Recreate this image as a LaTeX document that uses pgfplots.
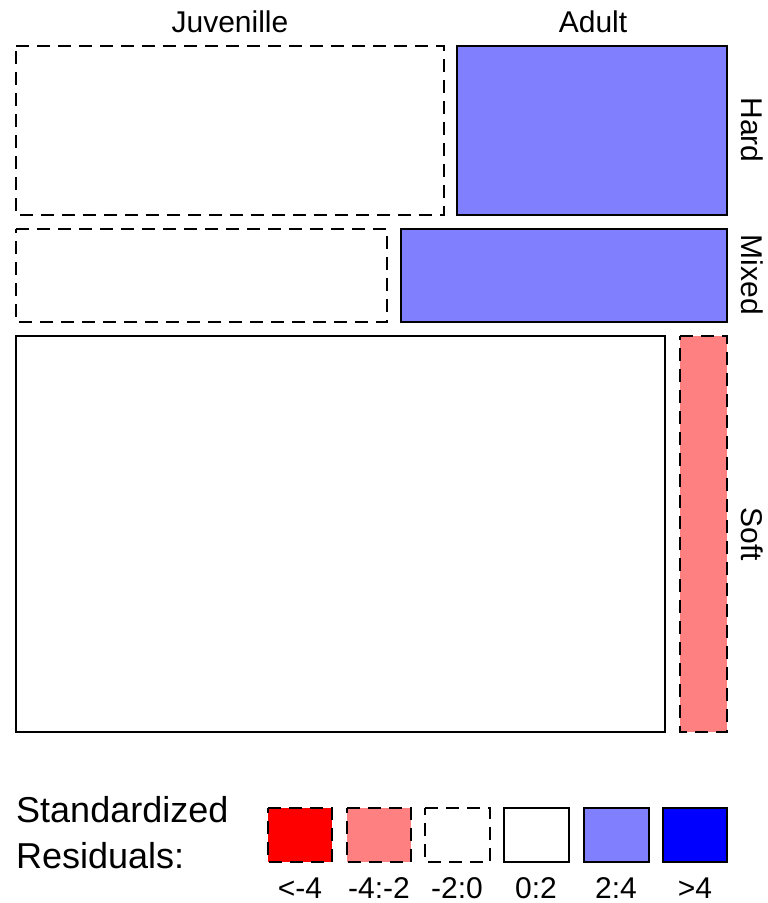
\documentclass[border=0pt]{standalone}
\usepackage{fontspec}
\setmainfont{Liberation Sans}
\usepackage{pgfplots}
\pgfplotsset{compat=1.18}

\definecolor{resNegHigh}{RGB}{255,0,0}
\definecolor{resNegMid}{RGB}{255,128,128}
\definecolor{resPosMid}{RGB}{128,128,255}
\definecolor{resPosHigh}{RGB}{0,0,255}

\tikzset{
  tile/.style={draw=black, line width=2.4pt, line join=miter},
  neg/.style={tile, dash pattern=on 13pt off 8pt},
  lab/.style={font=\fontsize{30}{32}\selectfont, inner sep=0pt},
  big/.style={font=\fontsize{36}{40}\selectfont, inner sep=0pt, anchor=west},
}

\begin{document}
\begin{tikzpicture}
\begin{axis}[
  width=768pt, height=903pt, scale only axis,
  xmin=0, xmax=768, ymin=0, ymax=903, y dir=reverse,
  hide axis, clip=false,
]
% full page frame
\path[draw=none, fill=white] (axis cs:0,0) rectangle (axis cs:768,903);
% mosaic tiles: age (columns) within substrate (rows)
% Hard
\addplot[neg, fill=white] coordinates {(16,46) (444,46) (444,215) (16,215)} -- cycle;
\addplot[tile, fill=resPosMid] coordinates {(457,46) (727,46) (727,215) (457,215)} -- cycle;
% Mixed
\addplot[neg, fill=white] coordinates {(16,229) (387,229) (387,322) (16,322)} -- cycle;
\addplot[tile, fill=resPosMid] coordinates {(401,229) (727,229) (727,322) (401,322)} -- cycle;
% Soft
\addplot[tile, fill=white] coordinates {(16,336) (665,336) (665,732) (16,732)} -- cycle;
\addplot[neg, fill=resNegMid] coordinates {(680,336) (727,336) (727,732) (680,732)} -- cycle;

% column and row labels
\node[lab] at (axis cs:230,22) {Juvenille};
\node[lab] at (axis cs:593,22) {Adult};
\node[lab, rotate=-90] at (axis cs:752,130) {Hard};
\node[lab, rotate=-90] at (axis cs:752,275) {Mixed};
\node[lab, rotate=-90] at (axis cs:752,534) {Soft};

% residual shading key
\addplot[neg, fill=resNegHigh] coordinates {(268,808) (332,808) (332,862) (268,862)} -- cycle;
\addplot[neg, fill=resNegMid] coordinates {(347,808) (411,808) (411,862) (347,862)} -- cycle;
\addplot[neg, fill=white] coordinates {(425,808) (490,808) (490,862) (425,862)} -- cycle;
\addplot[tile, fill=white] coordinates {(504,808) (569,808) (569,862) (504,862)} -- cycle;
\addplot[tile, fill=resPosMid] coordinates {(584,808) (649,808) (649,862) (584,862)} -- cycle;
\addplot[tile, fill=resPosHigh] coordinates {(663,808) (727,808) (727,862) (663,862)} -- cycle;

\node[big] at (axis cs:16,810) {Standardized};
\node[big] at (axis cs:16,856) {Residuals:};
\node[lab] at (axis cs:300,888) {<-4};
\node[lab] at (axis cs:379,888) {-4:-2};
\node[lab] at (axis cs:457,888) {-2:0};
\node[lab] at (axis cs:536,888) {0:2};
\node[lab] at (axis cs:616,888) {2:4};
\node[lab] at (axis cs:695,888) {>4};
\end{axis}
\end{tikzpicture}
\end{document}
